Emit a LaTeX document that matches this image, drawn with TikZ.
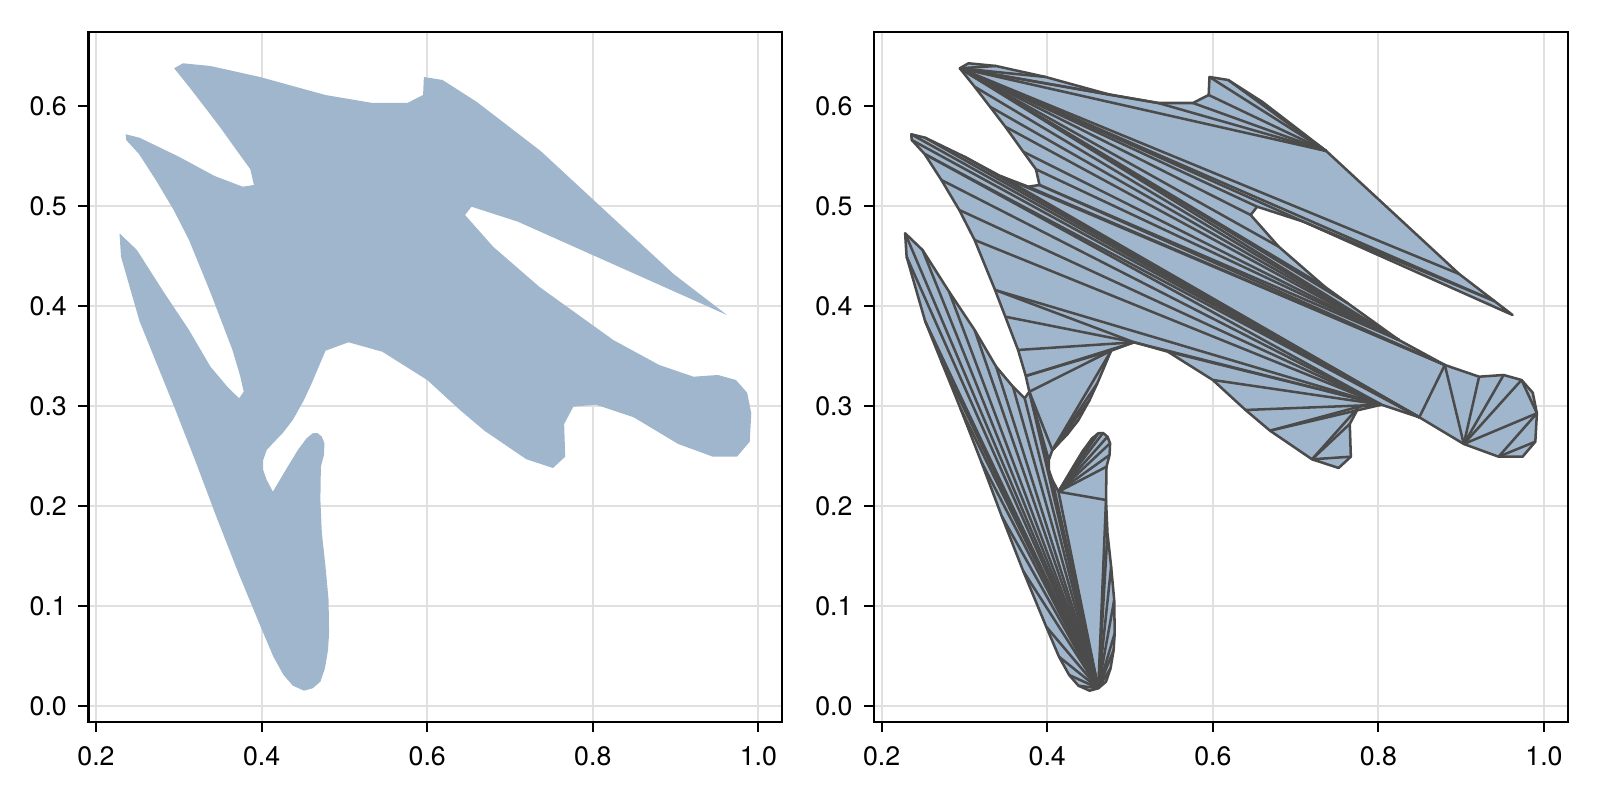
\documentclass[tikz,border=0pt]{standalone}
\usepackage{fontspec}
\setmainfont{TeX Gyre Heros}
\definecolor{shapeblue}{RGB}{160,182,205}
\definecolor{edgegray}{RGB}{75,75,75}
% outline of the shape, data coordinates
\newcommand\outlinepts{0.2944/0.6377, 0.305/0.6427, 0.338/0.640, 0.398/0.629, 0.477/0.611,
  0.534/0.603, 0.576/0.603, 0.595/0.611, 0.596/0.629, 0.6185/0.626, 0.66/0.604, 0.737/0.555,
  0.8975/0.432, 0.94/0.405, 0.962/0.391, 0.7095/0.4843, 0.6535/0.4993, 0.6457/0.491,
  0.6796/0.4593, 0.7352/0.4193, 0.763/0.4027, 0.8247/0.366, 0.8802/0.341, 0.9216/0.3293,
  0.9512/0.331, 0.9728/0.326, 0.9864/0.3133, 0.9914/0.2927, 0.9895/0.2643, 0.9741/0.2493,
  0.9451/0.2493, 0.9031/0.262, 0.8494/0.2887, 0.8037/0.3013, 0.7765/0.2993, 0.7654/0.282,
  0.7667/0.2493, 0.7519/0.238, 0.7198/0.2467, 0.6691/0.2753, 0.6395/0.296, 0.6/0.326,
  0.5457/0.3543, 0.5049/0.3637, 0.4772/0.3553, 0.4605/0.3227, 0.4512/0.306, 0.4377/0.286,
  0.4253/0.2727, 0.4154/0.2643, 0.4062/0.256, 0.4019/0.246, 0.4019/0.236, 0.4062/0.226,
  0.4136/0.2143, 0.4315/0.2393, 0.4438/0.256, 0.4543/0.2677, 0.4617/0.2727, 0.4673/0.273,
  0.4728/0.2693, 0.4759/0.2627, 0.4753/0.251, 0.4716/0.2393, 0.471/0.206, 0.4728/0.1727,
  0.4772/0.1393, 0.4809/0.106, 0.4815/0.0727, 0.4802/0.056, 0.4765/0.0377, 0.471/0.0243,
  0.4617/0.0177, 0.4512/0.0153, 0.4377/0.0203, 0.4265/0.031, 0.4142/0.0493, 0.3988/0.0793,
  0.371/0.135, 0.345/0.19, 0.32/0.245, 0.295/0.298, 0.272/0.345, 0.2525/0.385,
  0.2302/0.4493, 0.2284/0.4727, 0.2494/0.456, 0.2815/0.4143, 0.3123/0.376, 0.3383/0.3393,
  0.3586/0.3193, 0.3728/0.3077, 0.3784/0.3143, 0.3741/0.33, 0.3648/0.356, 0.3494/0.3893,
  0.337/0.416, 0.3123/0.466, 0.2938/0.496, 0.2722/0.526, 0.2519/0.552, 0.2364/0.566,
  0.2358/0.5717, 0.2525/0.5683, 0.3/0.5493, 0.3432/0.53, 0.3772/0.5193, 0.3907/0.521,
  0.3864/0.5367, 0.371/0.5543, 0.3494/0.5793, 0.3309/0.5993, 0.3123/0.6193}
% inner edges of the triangulation, by vertex number
\newcommand\triedges{1/3, 1/4, 1/5, 1/6, 1/12, 6/12, 7/12, 8/12, 9/12, 10/12, 1/13, 1/14,
  14/16, 1/16, 1/17, 1/18, 1/19, 1/20, 1/21, 1/22,
  113/22, 112/22, 111/22, 110/22, 109/22, 108/22, 108/23, 107/23, 106/23, 23/33, 106/33,
  105/33, 104/33, 103/33, 102/33, 101/33, 101/34, 100/34, 99/34, 98/34, 97/34,
  34/44, 34/43, 34/42, 34/41, 34/40, 35/40, 35/39, 36/39, 37/39,
  23/32, 24/32, 25/32, 26/32, 26/28, 28/32, 28/31, 29/31,
  97/44, 96/44, 95/44, 94/44, 94/45, 93/45, 93/51, 45/51, 51/46, 51/47, 51/48, 51/49,
  93/52, 93/53, 93/73,
  55/57, 55/58, 55/59, 55/60, 55/61, 55/62, 55/63, 55/64, 55/65,
  73/53, 73/54, 73/55, 73/65, 73/66, 73/67, 73/68, 73/69, 73/70, 73/71,
  73/75, 73/76, 73/77, 73/78, 73/79, 73/80, 73/81, 73/82, 73/83, 73/84, 73/85, 73/86,
  73/87, 73/88, 73/89, 73/90, 73/91, 73/92}
\begin{document}
\begin{tikzpicture}[
  gridline/.style={draw=black!12, line width=0.57pt},
  shapefill/.style={fill=shapeblue},
  triedge/.style={draw=edgegray, line width=0.72pt, line join=round},
  axframe/.style={draw=black, line width=0.6pt},
  tickmark/.style={draw=black, line width=0.6pt},
  ticklabel/.style={font=\fontsize{7.6}{9}\selectfont, inner sep=0pt}]
\useasboundingbox (0,0) rectangle (16,8);
\foreach \side/\xo in {L/-0.696, R/7.16} {
  \begin{scope}[shift={(\xo,0.94)}, x=8.28cm, y=10cm]
    \foreach \x in {0.2,0.4,...,1.0}
      \draw[gridline] (\x,-0.0157) -- (\x,0.6743);
    \foreach \y in {0.0,0.1,...,0.6}
      \draw[gridline] (0.191,\y) -- (1.0288,\y);
    \foreach [count=\i] \vx/\vy in \outlinepts
      \coordinate (\side\i) at (\vx,\vy);
    \fill[shapefill] (\side1) \foreach \i in {2,...,113} {-- (\side\i)} -- cycle;
    \draw[axframe] (0.191,-0.0157) rectangle (1.0288,0.6743);
    \foreach \x/\t in {0.2/0.2, 0.4/0.4, 0.6/0.6, 0.8/0.8, 1.0/1.0} {
      \draw[tickmark] (\x,-0.0157) -- ++(0,-0.105cm);
      \node[ticklabel] at (\x,-0.0157) [yshift=-0.343cm] {\t};
    }
    \foreach \y/\t in {0.0/0.0, 0.1/0.1, 0.2/0.2, 0.3/0.3, 0.4/0.4, 0.5/0.5, 0.6/0.6} {
      \draw[tickmark] (0.191,\y) -- ++(-0.105cm,0);
      \node[ticklabel, anchor=east] at (0.191,\y) [xshift=-0.21cm] {\t};
    }
  \end{scope}
}
\foreach \a/\b in \triedges
  \draw[triedge] (R\a) -- (R\b);
\draw[triedge] (R1) \foreach \i in {2,...,113} {-- (R\i)} -- cycle;
\end{tikzpicture}
\end{document}
